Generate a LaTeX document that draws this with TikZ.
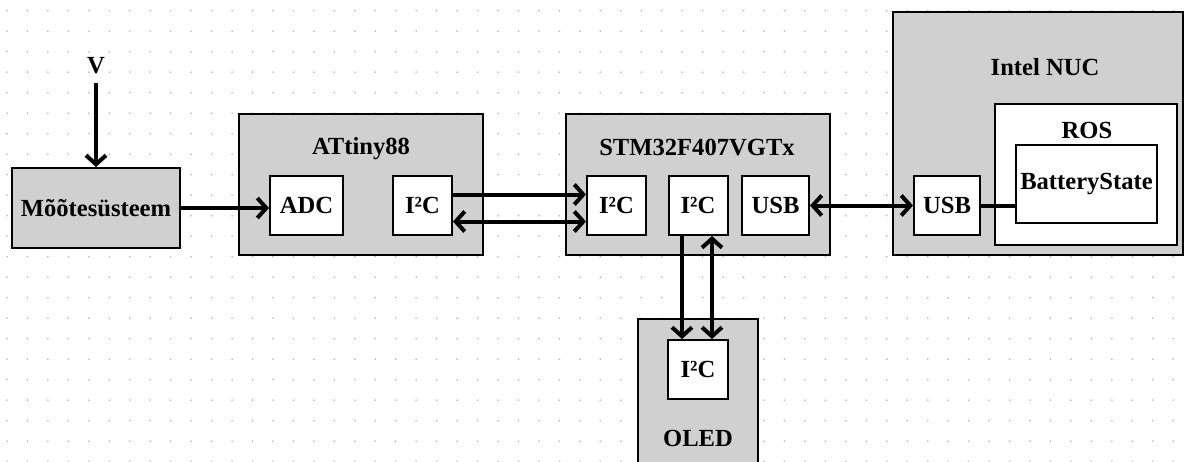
\documentclass[tikz,border=0pt]{standalone}
\usepackage{fontspec}
\setmainfont{Liberation Serif}
\usetikzlibrary{arrows.meta, calc}
\definecolor{cBox}{RGB}{208,208,208}
\definecolor{cDot}{RGB}{190,190,198}

\begin{document}
\begin{tikzpicture}[x=0.5pt, y=-0.5pt, font=\fontsize{12.3}{14}\selectfont\bfseries,
    blk/.style={draw, line width=1pt, fill=cBox, inner sep=0pt},
    sub/.style={draw, line width=1pt, fill=white, inner sep=0pt, minimum height=29.5pt},
    lbl/.style={inner sep=1pt},
    link/.style={line width=2pt, -{Straight Barb[length=4.5pt, width=10pt]}},
    both/.style={line width=2pt, {Straight Barb[length=4.5pt, width=10pt]}-{Straight Barb[length=4.5pt, width=10pt]}}]
    \path[use as bounding box, clip] (0,0) rectangle (1188,461);
    \foreach \i in {0,...,57}
        \foreach \j in {0,...,22}
            \fill[cDot] (7+\i*20.46, 10.7+\j*20.5) circle (0.5pt);

    \node[lbl] (vin) at (96,66) {V};
    \node[blk, minimum width=84pt, minimum height=40pt] (meas) at (96,208) {Mõõtesüsteem};

    \node[blk, minimum width=122pt, minimum height=70.5pt] (attiny) at (361,184.5) {};
    \node[lbl] (attinyT) at (361,149) {ATtiny88};
    \node[sub, minimum width=36.5pt] (adc) at (306.5,205.5) {ADC};
    \node[sub, minimum width=29.5pt] (ati2c) at (422.5,205.5) {I²C};

    \node[blk, minimum width=132pt, minimum height=70.5pt] (stm) at (698,184.5) {};
    \node[lbl] (stmT) at (697,148) {STM32F407VGTx};
    \node[sub, minimum width=29.5pt] (si2ca) at (616.5,205.5) {I²C};
    \node[sub, minimum width=29.5pt] (si2cb) at (698,205.5) {I²C};
    \node[sub, minimum width=33.5pt] (susb) at (775.5,205.5) {USB};

    \node[blk, minimum width=145pt, minimum height=121.5pt] (nuc) at (1038,133.5) {};
    \node[lbl] (nucT) at (1045,67) {Intel NUC};
    \node[sub, minimum width=91pt, minimum height=70.5pt] (ros) at (1086,174.5) {};
    \node[lbl] (rosT) at (1087,130) {ROS};
    \node[sub, minimum width=70.5pt, minimum height=39pt] (bstate) at (1086.5,184) {BatteryState};
    \node[sub, minimum width=33pt] (nusb) at (947,205.5) {USB};

    \node[blk, minimum width=60pt, minimum height=76pt] (oled) at (698,395) {};
    \node[lbl] (oledT) at (698,438) {OLED};
    \node[sub, minimum width=30pt] (oi2c) at (698,369.5) {I²C};

    \draw[link, shorten <=3pt] (vin) -- (meas);
    \draw[link] (meas) -- (meas -| adc.west);
    \draw[link] ($(ati2c.east)+(0,-11)$) -- ($(si2ca.west)+(0,-11)$);
    \draw[both] ($(ati2c.east)+(0,16)$) -- ($(si2ca.west)+(0,16)$);
    \draw[both] (susb) -- (nusb);
    \draw[line width=2pt] (nusb) -- (nusb -| bstate.west);
    \draw[link] ($(si2cb.south)+(-16,0)$) -- ($(oi2c.north)+(-16,0)$);
    \draw[both] ($(si2cb.south)+(14,0)$) -- ($(oi2c.north)+(14,0)$);
\end{tikzpicture}
\end{document}
